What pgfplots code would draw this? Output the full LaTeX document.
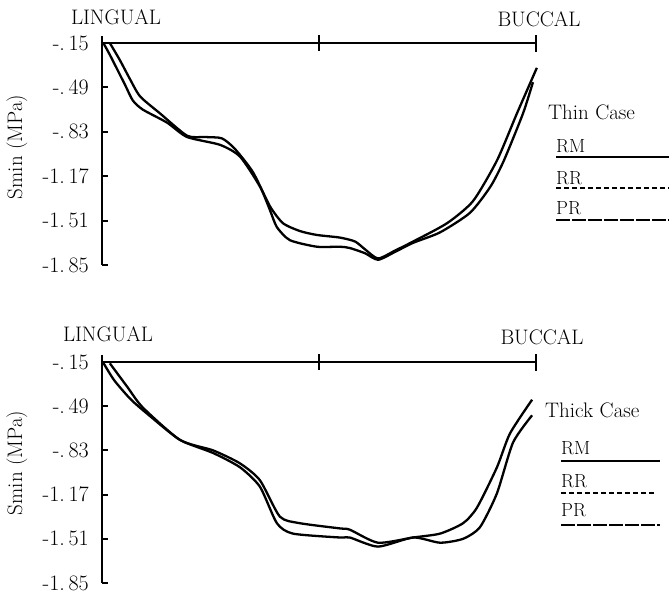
\documentclass[border=0pt]{standalone}
\usepackage{fontspec}
\usepackage{pgfplots}
\pgfplotsset{compat=1.18}
\newcommand{\bigf}{\fontsize{21}{24}\selectfont}
\newcommand{\tickf}{\fontsize{22}{25}\selectfont}
\newcommand{\legf}{\fontsize{19}{22}\selectfont}
\pgfplotsset{
  panel/.style={
    scale only axis, width=434pt,
    xmin=0, xmax=100, ymin=-1.85, ymax=-0.15,
    axis x line*=top, axis y line*=left,
    axis line style={-, line width=2.3pt},
    xtick=\empty,
    ytick={-1.85,-1.51,-1.17,-0.83,-0.49,-0.15},
    yticklabels={-1.\,85,-1.\,51,-1.\,17,-.\,83,-.\,49,-.\,15},
    tick align=inside, major tick length=6pt,
    every tick/.style={black, line width=2pt},
    yticklabel style={font=\tickf, inner sep=0pt, xshift=-13pt},
    clip=false,
  },
  curve/.style={black, line width=2.3pt, smooth, tension=0.4, mark=none},
}
\begin{document}
\begin{tikzpicture}[x=1pt,y=1pt]
\useasboundingbox (0,0) rectangle (669,597);

% ---------- Top panel: Thin case ----------
\begin{axis}[panel, height=222pt, at={(102pt,332pt)}, anchor=south west]
\addplot[curve] coordinates {
(0.3,-0.15) (1.8,-0.24) (5.3,-0.47) (7.1,-0.59) (9.4,-0.66) (15.0,-0.76)
(19.6,-0.87) (27.2,-0.93) (31.8,-1.02) (36.4,-1.25) (38.7,-1.43) (40.3,-1.56)
(43.3,-1.66) (49.5,-1.71) (54.8,-1.71) (57.1,-1.72) (60.6,-1.76) (63.6,-1.81)
(67.5,-1.75) (71.7,-1.68) (77.9,-1.60) (84.8,-1.45) (89.5,-1.25) (92.6,-1.05)
(97.0,-0.69) (99.3,-0.45)};
\addplot[curve] coordinates {
(1.8,-0.15) (4.1,-0.28) (6.5,-0.43) (8.8,-0.56) (13.4,-0.69) (19.6,-0.86)
(23.7,-0.87) (27.6,-0.88) (30.6,-0.96) (34.8,-1.14) (38.7,-1.40) (41.7,-1.53)
(45.6,-1.59) (49.5,-1.62) (54.8,-1.64) (58.3,-1.67) (60.6,-1.73) (63.6,-1.80)
(67.5,-1.74) (71.7,-1.67) (79.5,-1.53) (85.5,-1.36) (91.0,-1.05) (95.6,-0.69) (100.2,-0.34)};
\coordinate (t0) at (axis cs:0,-0.15);
\coordinate (t1) at (axis cs:50,-0.15);
\coordinate (t2) at (axis cs:100,-0.15);
\end{axis}
\draw[line width=2.3pt] (t0) -- ++(0,7);
\draw[line width=2pt] (t1) ++(0,-8) -- ++(0,16);
\draw[line width=2pt] (t2) ++(0,-9) -- ++(0,17);

% ---------- Bottom panel: Thick case ----------
\begin{axis}[panel, height=221pt, at={(102pt,14pt)}, anchor=south west]
\addplot[curve] coordinates {
(0.2,-0.15) (2.8,-0.29) (6.7,-0.44) (11.2,-0.57) (18.0,-0.75) (25.6,-0.85)
(31.8,-0.96) (36.4,-1.11) (40.3,-1.39) (44.0,-1.47) (54.8,-1.50) (57.1,-1.50)
(63.6,-1.57) (71.7,-1.50) (77.9,-1.54) (83.2,-1.51) (87.1,-1.42) (91.0,-1.16)
(94.7,-0.77) (99.1,-0.56)};
\addplot[curve] coordinates {
(1.8,-0.16) (5.8,-0.34) (9.4,-0.50) (18.0,-0.75) (25.6,-0.83) (31.8,-0.93)
(36.4,-1.06) (41.0,-1.34) (45.6,-1.39) (54.8,-1.43) (57.1,-1.44) (63.6,-1.54)
(71.7,-1.50) (77.9,-1.47) (83.2,-1.39) (86.4,-1.27) (91.0,-0.96) (94.0,-0.70) (99.1,-0.44)};
\coordinate (b0) at (axis cs:0,-0.15);
\coordinate (b1) at (axis cs:50,-0.15);
\coordinate (b2) at (axis cs:100,-0.15);
\end{axis}
\draw[line width=2.3pt] (b0) -- ++(0,7);
\draw[line width=2pt] (b1) ++(0,-8) -- ++(0,16);
\draw[line width=2pt] (b2) ++(0,-9) -- ++(0,17);

% ---------- Labels ----------
\node[font=\bigf, anchor=base, inner sep=0pt] at (116,572) {LINGUAL};
\node[font=\bigf, anchor=base, inner sep=0pt] at (539,570) {BUCCAL};
\node[font=\bigf, anchor=base, inner sep=0pt] at (108,255) {LINGUAL};
\node[font=\bigf, anchor=base, inner sep=0pt] at (542,252) {BUCCAL};
\node[font=\bigf, rotate=90] at (17,450) {Smin (MPa)};
\node[font=\bigf, rotate=90] at (17,134) {Smin (MPa)};

% ---------- Legends ----------
\node[font=\bigf, anchor=base west, inner sep=0pt] at (548,477) {Thin Case};
\node[font=\legf, anchor=base west, inner sep=0pt] at (556,444) {RM};
\draw[line width=1.4pt] (556,440) -- (669,440);
\node[font=\legf, anchor=base west, inner sep=0pt] at (556,412) {RR};
\draw[line width=1.4pt, dash pattern=on 5pt off 3pt] (556,409) -- (669,409);
\node[font=\legf, anchor=base west, inner sep=0pt] at (556,382) {PR};
\draw[line width=1.4pt, dash pattern=on 14pt off 2pt] (556,377) -- (669,377);

\node[font=\bigf, anchor=base west, inner sep=0pt] at (545,179) {Thick Case};
\node[font=\legf, anchor=base west, inner sep=0pt] at (561,142) {RM};
\draw[line width=1.4pt] (561,136) -- (660,136);
\node[font=\legf, anchor=base west, inner sep=0pt] at (561,109) {RR};
\draw[line width=1.4pt, dash pattern=on 5pt off 3pt] (561,104) -- (655,104);
\node[font=\legf, anchor=base west, inner sep=0pt] at (561,80) {PR};
\draw[line width=1.4pt, dash pattern=on 14pt off 2pt] (561,72) -- (660,72);
\end{tikzpicture}
\end{document}
